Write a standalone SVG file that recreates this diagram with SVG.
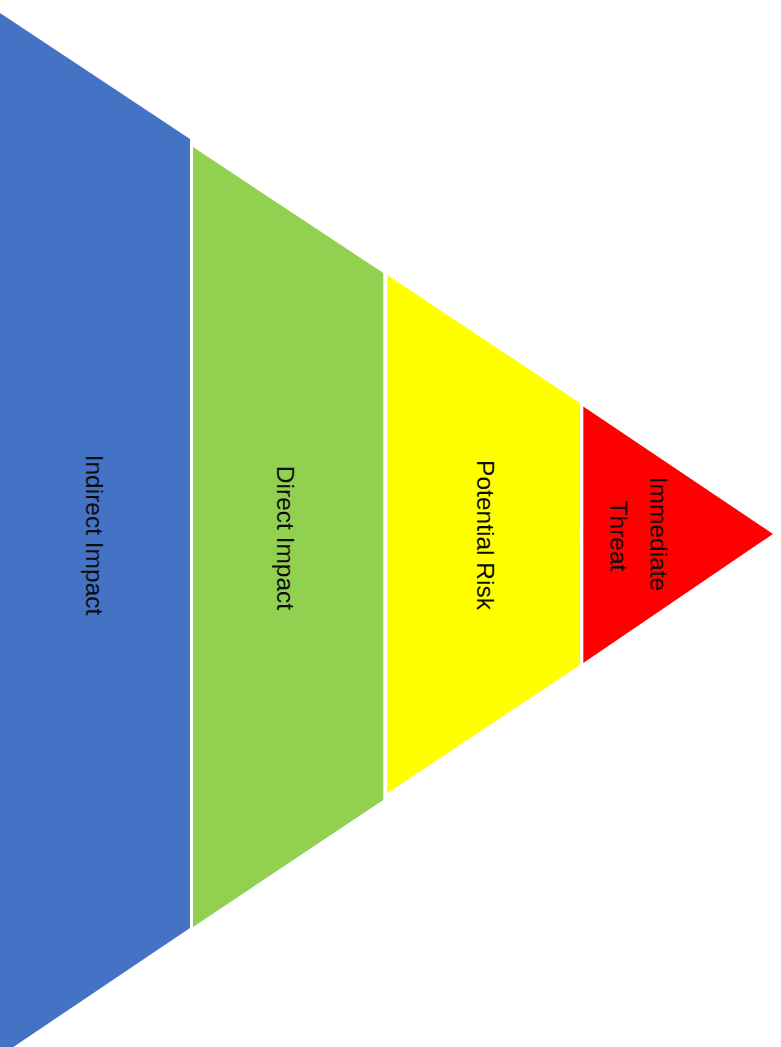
<svg xmlns="http://www.w3.org/2000/svg" width="781" height="1047" viewBox="0 0 781 1047">
<style>
.lbl{font-family:"Liberation Sans",Arial,sans-serif;font-size:24.5px;fill:#0d0d0d;text-anchor:middle}
</style>
<rect width="781" height="1047" fill="#ffffff"/>
<g id="indirect-impact">
<polygon points="0,13 190,139 190,928 0,1056" fill="#4472C4"/>
<text class="lbl" transform="translate(95,535) rotate(90)" x="0" y="9">Indirect Impact</text>
</g>
<g id="direct-impact">
<polygon points="193,147 383.3,273 383.3,800 193,927" fill="#92D050"/>
<text class="lbl" transform="translate(286,538) rotate(90)" x="0" y="9">Direct Impact</text>
</g>
<g id="potential-risk">
<polygon points="387.3,275 580,403.3 580,665 387.3,793.3" fill="#FFFF00"/>
<text class="lbl" transform="translate(486,535) rotate(90)" x="0" y="9">Potential Risk</text>
</g>
<g id="immediate-threat">
<polygon points="583.3,406.5 773,534 583.3,663" fill="#FF0000"/>
<text class="lbl" transform="translate(659,534) rotate(90)" x="0" y="9">Immediate</text>
<text class="lbl" transform="translate(619,536) rotate(90)" x="0" y="9">Threat</text>
</g>
<g id="connectors"/>
</svg>
